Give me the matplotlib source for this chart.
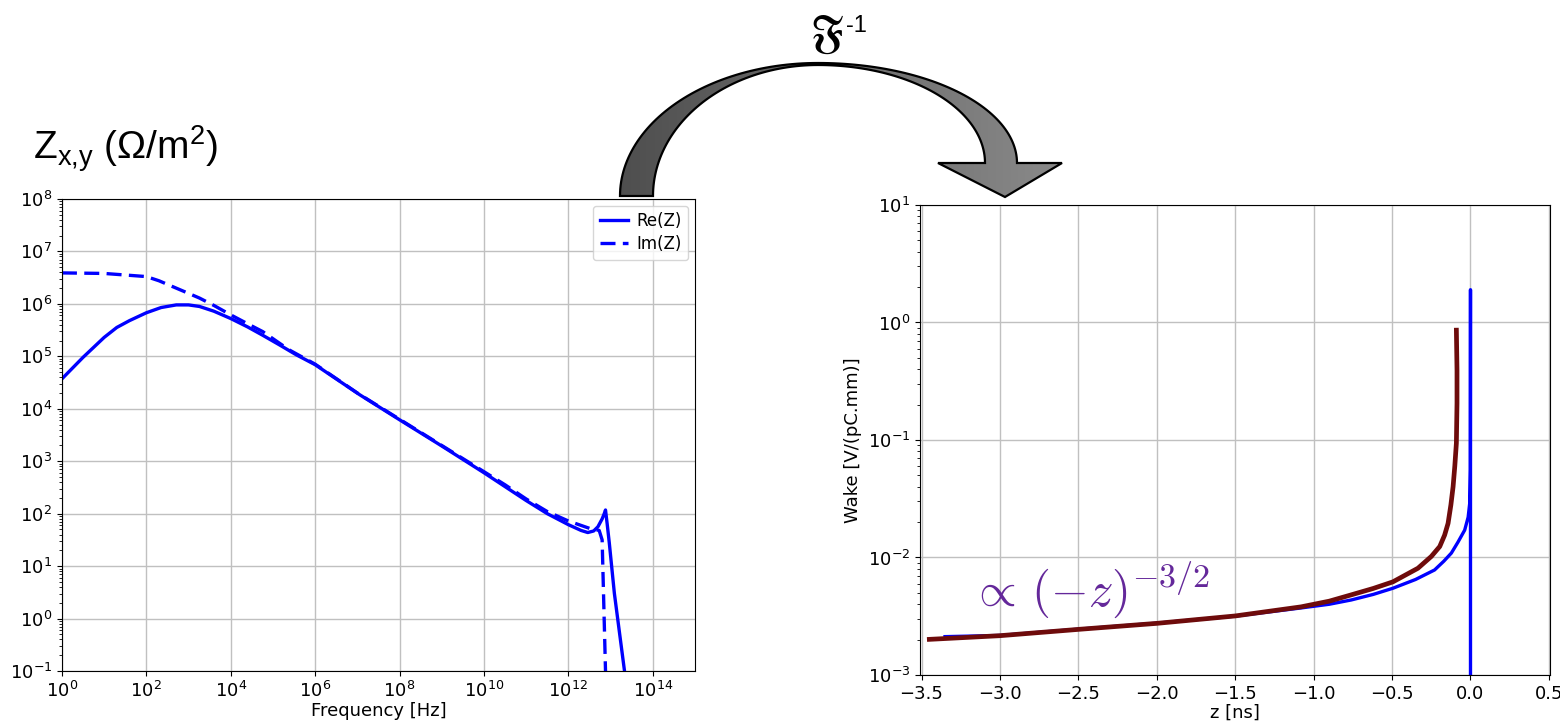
import numpy as np
import matplotlib
matplotlib.use("Agg")
import matplotlib.pyplot as plt
from matplotlib.patches import Polygon
from matplotlib.colors import LinearSegmentedColormap

# custom math font (Arial-like) for the big headings
plt.rcParams['mathtext.rm'] = 'Liberation Sans'
plt.rcParams['mathtext.it'] = 'Liberation Sans:italic'
plt.rcParams['mathtext.bf'] = 'Liberation Sans:bold'
plt.rcParams['mathtext.sf'] = 'Liberation Sans'

# impedance, log10(frequency) and log10(|Z|)
logf_re = [0, 0.5, 1.0, 1.3, 1.6, 2.0, 2.35, 2.71, 3.0, 3.26, 3.6, 4.0, 4.4,
           4.76, 5.15, 5.55, 6.0, 7.05, 8.0, 9.0, 10.0, 11.0, 11.5, 12.0, 12.3, 12.46,
           12.6, 12.7, 12.8, 12.85, 12.88, 12.92, 12.97, 13.09, 13.2, 13.33, 13.45]
logz_re = [4.57, 4.98, 5.36, 5.55, 5.68, 5.83, 5.93, 5.98, 5.98, 5.95, 5.86, 5.72, 5.56,
           5.4, 5.22, 5.03, 4.84, 4.27, 3.79, 3.29, 2.78, 2.25, 2.0, 1.79, 1.68, 1.64,
           1.67, 1.75, 1.9, 2.0, 2.07, 1.8, 1.44, 0.48, -0.2, -1.0, -1.7]
logf_im = [0, 1.0, 2.0, 2.3, 2.62, 3.0, 3.26, 3.6, 4.0, 4.4, 4.76, 5.1, 5.39, 6.0, 7.0,
           8.0, 9.0, 10.0, 10.5, 11.0, 11.5, 12.0, 12.5, 12.73, 12.8, 12.88, 12.9]
logz_im = [6.59, 6.58, 6.52, 6.44, 6.33, 6.2, 6.11, 5.97, 5.79, 5.62, 5.47, 5.28, 5.12, 4.85, 4.3,
           3.8, 3.3, 2.8, 2.55, 2.28, 2.04, 1.86, 1.72, 1.68, 1.5, -1.0, -2.0]

# wake functions
z_blue = [-3.35, -3.0, -2.49, -2.0, -1.5, -1.08, -0.9, -0.76, -0.62, -0.495, -0.35, -0.229,
          -0.17, -0.122, -0.08, -0.037, -0.015, -0.005, -0.001, 0.0, 0.0]
w_blue = [2.12e-3, 2.17e-3, 2.46e-3, 2.76e-3, 3.17e-3, 3.72e-3, 4.0e-3, 4.35e-3, 4.85e-3,
          5.47e-3, 6.5e-3, 7.83e-3, 9.3e-3, 0.0109, 0.0135, 0.0171, 0.022, 0.0289, 0.056,
          1.9, 1e-5]
z_brown = [-3.45, -3.0, -2.49, -2.0, -1.5, -1.08, -0.9, -0.762, -0.62, -0.495, -0.335,
           -0.25, -0.196, -0.165, -0.143, -0.125, -0.111, -0.1, -0.09, -0.086, -0.086, -0.09]
w_brown = [2.01e-3, 2.16e-3, 2.45e-3, 2.75e-3, 3.18e-3, 3.8e-3, 4.25e-3, 4.8e-3, 5.45e-3,
           6.2e-3, 8.1e-3, 0.0102, 0.0124, 0.0155, 0.0195, 0.028, 0.040, 0.06, 0.094, 0.206,
           0.39, 0.86]

fig = plt.figure(figsize=(15.6, 7.24), dpi=100)

# left: impedance
axL = fig.add_axes([0.0397, 0.0732, 0.4058, 0.652])
axL.plot(10 ** np.array(logf_re), 10 ** np.array(logz_re), color='blue', lw=2.4, label='Re(Z)')
axL.plot(10 ** np.array(logf_im), 10 ** np.array(logz_im), color='blue', lw=2.4,
         ls=(0, (4.5, 2.2)), label='Im(Z)')
axL.set_xscale('log')
axL.set_yscale('log')
axL.set_xlim(1, 1e15)
axL.set_ylim(1e-1, 1e8)
axL.set_xticks([10.0 ** k for k in range(0, 15, 2)])
axL.set_yticks([10.0 ** k for k in range(-1, 9)])
axL.grid(True, color='#c0c0c0', lw=1)
axL.tick_params(labelsize=13)
axL.set_xlabel('Frequency [Hz]', fontsize=13, labelpad=1)
axL.legend(loc='upper right', fontsize=12, handlelength=1.7, borderaxespad=0.4,
           handletextpad=0.5, labelspacing=0.3)

# right: wake
axR = fig.add_axes([0.5897, 0.0677, 0.4038, 0.6492])
axR.plot(z_blue, w_blue, color='blue', lw=2.4)
axR.plot(z_brown, w_brown, color='#6e0b0b', lw=3.4)
axR.set_yscale('log')
axR.set_xlim(-3.51, 0.506)
axR.set_ylim(1e-3, 1e1)
axR.set_xticks(np.arange(-3.5, 0.51, 0.5))
axR.grid(True, color='#c0c0c0', lw=1)
axR.tick_params(labelsize=13)
axR.set_xlabel('z [ns]', fontsize=13, labelpad=1)
axR.set_ylabel('Wake [V/(pC.mm)]', fontsize=13)
axR.text(-3.19, 3.85e-3, r'$\propto\,(-z)^{-3/2}$', fontsize=35, color='#64289a',
         math_fontfamily='cm', va='baseline')

# overlay in pixel coordinates for the arrow and headings
ov = fig.add_axes([0, 0, 1, 1])
ov.axis('off')

t = np.linspace(0, np.pi / 2, 60)
outer_l = np.c_[818 - 198 * np.cos(t), 196 - 133 * np.sin(t)]
outer_r = np.c_[818 + 199 * np.sin(t), 163 - 100 * np.cos(t)]
inner_r = np.c_[818 + 167 * np.sin(t[::-1]), 163 - 98 * np.cos(t[::-1])]
inner_l = np.c_[818 - 165 * np.cos(t[::-1]), 196 - 131 * np.sin(t[::-1])]
head = np.array([[1062, 163], [1005, 197], [938, 163]])
pts = np.vstack([outer_l, outer_r, head, inner_r, inner_l])
arrow = Polygon(pts, closed=True, facecolor='none', edgecolor='black', lw=1.6, zorder=3)
ov.add_patch(arrow)
grad = np.linspace(0, 1, 200)[None, :]
cm_g = LinearSegmentedColormap.from_list('g', ['#4e4e4e', '#8a8a8a'])
im = ov.imshow(grad, extent=(615, 1065, 200, 58), cmap=cm_g, aspect='auto', zorder=2)
im.set_clip_path(arrow)
ov.set_xlim(0, 1560)
ov.set_ylim(724, 0)

ov.text(810, 13, r'$\mathfrak{F}$', fontsize=32, math_fontfamily='stix', va='top', ha='left')
ov.text(846, 32, '-1', fontsize=17, family='Liberation Sans', va='baseline', ha='left')
ov.text(33, 160, r'$\mathrm{Z_{x{,}y}\ (\Omega/m^{2})}$', fontsize=28,
        math_fontfamily='custom', va='baseline', ha='left')

fig.savefig('out.png', dpi=100)
